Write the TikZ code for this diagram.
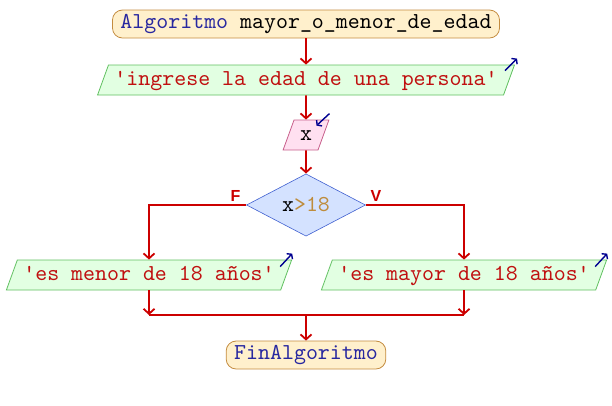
\documentclass[tikz,border=0pt]{standalone}
\usepackage{fontspec}
\usepackage{tikz}
\usetikzlibrary{shapes.geometric,arrows.meta}
\setmonofont{lmmono10-regular.otf}
\newfontfamily\labfont{Liberation Sans}
\definecolor{termfill}{RGB}{255,240,204}
\definecolor{termline}{RGB}{196,140,64}
\definecolor{infill}{RGB}{226,255,226}
\definecolor{inline}{RGB}{96,192,96}
\definecolor{rdfill}{RGB}{255,224,240}
\definecolor{rdline}{RGB}{200,96,140}
\definecolor{cndfill}{RGB}{212,226,255}
\definecolor{cndline}{RGB}{64,96,208}
\definecolor{flowc}{RGB}{204,0,0}
\definecolor{kw}{RGB}{40,40,160}
\definecolor{str}{RGB}{192,16,16}
\definecolor{num}{RGB}{190,140,60}
\definecolor{io}{RGB}{0,0,144}
\tikzstyle{term}=[rectangle,rounded corners=10pt,draw=termline,fill=termfill,
                  line width=0.8pt,inner xsep=8pt,inner ysep=0pt,minimum height=28pt,
                  font=\ttfamily\fontsize{22.8}{24}\selectfont]
\tikzstyle{inbox}=[trapezium,trapezium left angle=70,trapezium right angle=110,
                   draw=inline,fill=infill,line width=0.8pt,text=str,
                   text height=15pt,text depth=5pt,inner xsep=6pt,inner ysep=5pt,
                   font=\ttfamily\fontsize{22.8}{24}\selectfont]
\tikzstyle{rdbox}=[inbox,draw=rdline,fill=rdfill,text=black]
\tikzstyle{cnd}=[diamond,draw=cndline,fill=cndfill,line width=0.6pt,inner sep=0pt,
                 minimum width=119pt,minimum height=59pt,
                 font=\ttfamily\fontsize{22.8}{24}\selectfont]
\tikzstyle{flow}=[draw=flowc,line width=1.8pt,-{Straight Barb[length=5pt,width=11pt]}]
\tikzstyle{flowline}=[draw=flowc,line width=1.8pt]
\tikzstyle{lbl}=[text=flowc,inner sep=1pt,font=\labfont\bfseries\fontsize{16}{16}\selectfont]
\tikzstyle{ioarrow}=[draw=io,line width=1.4pt,-{Straight Barb[length=3pt,width=8pt]}]

\begin{document}
\begin{tikzpicture}[x=1pt,y=-1pt]
    \useasboundingbox (0,0) rectangle (612,405);
    \node (start) at (306,24) [term]{\textcolor{kw}{Algoritmo} mayor\_o\_menor\_de\_edad};
    \node (in1) at (306,80) [inbox]{'ingrese la edad de una persona'};
    \node (rd) at (306,135) [rdbox]{x};
    \node (cond) at (306,205) [cnd]{x\textcolor{num}{>18}};
    \node (out1) at (149,275) [inbox]{'es menor de 18 años'};
    \node (out2) at (464,275) [inbox]{'es mayor de 18 años'};
    \coordinate (join) at (306,315);
    \node (fin) at (306,355) [term]{\textcolor{kw}{FinAlgoritmo}};
    \draw[flow] (start) -- (in1);
    \draw[flow] (in1) -- (rd);
    \draw[flow] (rd) -- (cond);
    \draw[flow] (cond.west) -| node[lbl,pos=0.055,above=2pt] (lf) {F} (out1.north);
    \draw[flow] (cond.east) -| node[lbl,pos=0.052,above=2pt] (lv) {V} (out2.north);
    \draw[flow] (out1.south) -- (out1.south |- join);
    \draw[flow] (out2.south) -- (out2.south |- join);
    \draw[flowline] (out1.south |- join) -- (out2.south |- join);
    \draw[flow] (join) -- (fin);
    \draw[ioarrow] ([shift={(-10,6)}]in1.top right corner) -- ([shift={(2,-6)}]in1.top right corner);
    \draw[ioarrow] ([shift={(0,-6)}]rd.top right corner) -- ([shift={(-13,6)}]rd.top right corner);
    \draw[ioarrow] ([shift={(-12,7)}]out1.top right corner) -- ([shift={(0,-6)}]out1.top right corner);
    \draw[ioarrow] ([shift={(-12,7)}]out2.top right corner) -- ([shift={(0,-6)}]out2.top right corner);
\end{tikzpicture}
\end{document}
